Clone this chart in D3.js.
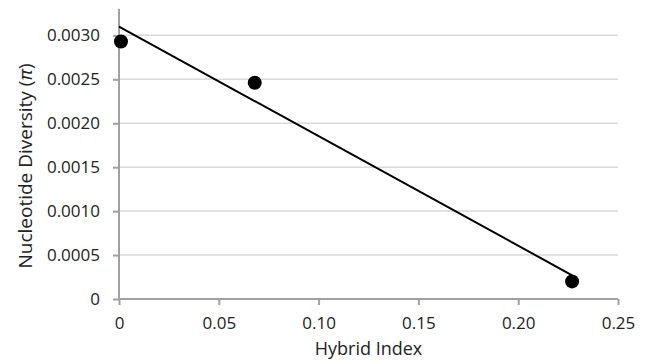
<!DOCTYPE html>
<html>
<head>
<meta charset="utf-8">
<script src="https://cdn.jsdelivr.net/npm/d3@7"></script>
<style>
  body { margin: 0; background: #fff; }
  text { font-family: 'Open Sans', sans-serif; fill: #222; }
</style>
</head>
<body>
<script>
(function () {
    'use strict'

    const hybridIndex = [0.001, 0.068, 0.227]
    const diversity = [0.00293, 0.00246, 0.0002]
    const trendX = [0, 0.227]
    const trendY = [0.0031, 0.00027]
    const xTicks = [0, 0.05, 0.10, 0.15, 0.20, 0.25]
    const yTicks = [0, 0.0005, 0.0010, 0.0015, 0.0020, 0.0025, 0.0030]

    const W = 648, H = 364
    const margin = { top: 9, right: 30, bottom: 65, left: 119 }
        , width = W - margin.left - margin.right
        , height = H - margin.top - margin.bottom

    const svg = d3.select('body').append('svg')
        .attr('width', W).attr('height', H)

    const g = svg.append('g')
        .attr('transform', 'translate(' + margin.left + ',' + margin.top + ')')

    const xScale = d3.scaleLinear().domain([0, 0.25]).range([0, width])
    const yScale = d3.scaleLinear().domain([0, 0.0033]).range([height, 0])

    // gridlines
    g.selectAll('.grid')
        .data(yTicks.filter(d => d > 0))
        .enter().append('line')
        .attr('x1', 0).attr('x2', width)
        .attr('y1', d => yScale(d)).attr('y2', d => yScale(d))
        .attr('stroke', '#d9d9d9').attr('stroke-width', 1.5)

    const xAxis = g.append('g')
        .attr('transform', 'translate(0,' + height + ')')
        .call(d3.axisBottom(xScale).tickValues(xTicks).tickSize(6).tickPadding(12)
            .tickFormat(d => d === 0 ? '0' : d3.format('.2f')(d)))

    const yAxis = g.append('g')
        .call(d3.axisLeft(yScale).tickValues(yTicks).tickSize(6).tickPadding(13)
            .tickFormat(d => d === 0 ? '0' : d3.format('.4f')(d)))

    ;[xAxis, yAxis].forEach(a => {
        a.selectAll('path, line').attr('stroke', '#a0a0a0').attr('stroke-width', 2)
        a.selectAll('text').style('font-size', '17px').style('font-family', "'Open Sans', sans-serif").attr('fill', '#222')
    })
    yAxis.select('.domain').attr('d', 'M0,' + height + 'V0')
    xAxis.select('.domain').attr('d', 'M0,0H' + width)

    // trend line
    const trend = trendX.map((x, i) => ({ x: x, y: trendY[i] }))
    g.append('path')
        .datum(trend)
        .attr('d', d3.line().x(d => xScale(d.x)).y(d => yScale(d.y)))
        .attr('stroke', '#000').attr('stroke-width', 2).attr('fill', 'none')

    // points
    g.selectAll('.dot')
        .data(hybridIndex.map((x, i) => ({ x: x, y: diversity[i] })))
        .enter().append('circle')
        .attr('cx', d => xScale(d.x))
        .attr('cy', d => yScale(d.y))
        .attr('r', 7)
        .attr('fill', '#000')

    // axis titles
    svg.append('text')
        .attr('x', margin.left + width / 2)
        .attr('y', 355)
        .attr('text-anchor', 'middle')
        .style('font-size', '18px')
        .text('Hybrid Index')

    svg.append('text')
        .attr('transform', 'translate(32,166) rotate(-90)')
        .attr('text-anchor', 'middle')
        .style('font-size', '19px')
        .html('Nucleotide Diversity (<tspan font-style="italic">π</tspan>)')
})()
</script>
</body>
</html>
